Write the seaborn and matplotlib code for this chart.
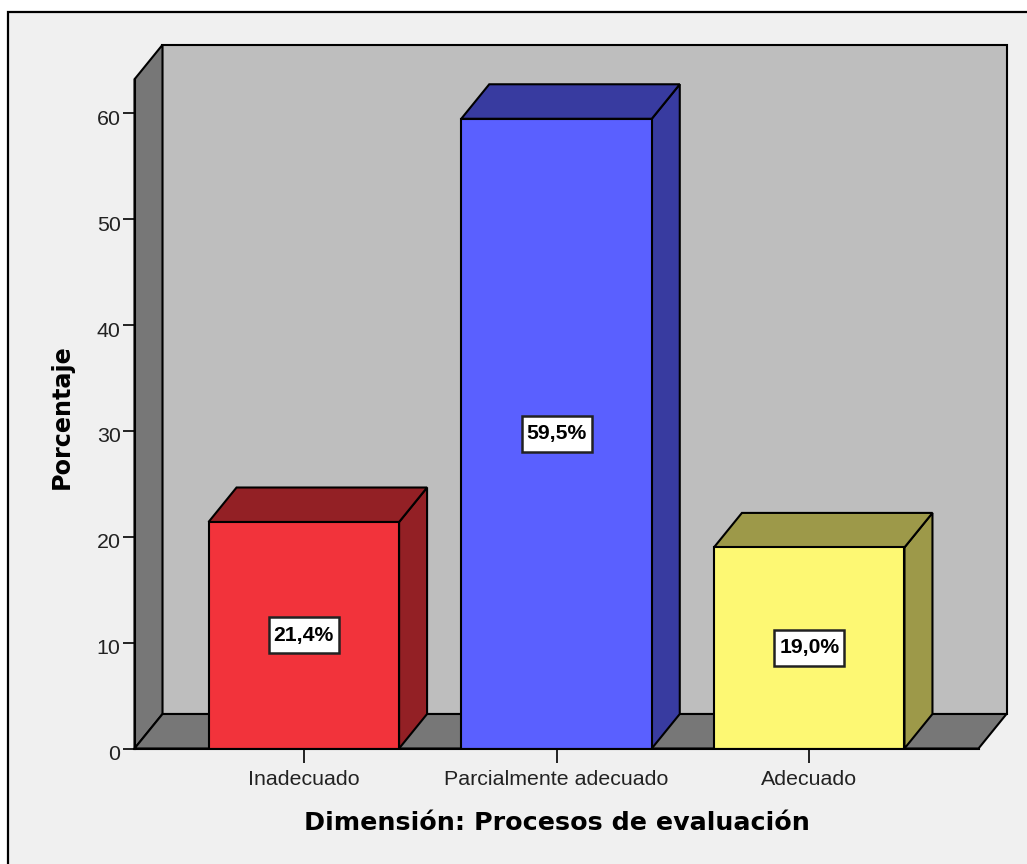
import matplotlib
matplotlib.use("Agg")
import matplotlib.pyplot as plt
from matplotlib.patches import Polygon, Rectangle
from matplotlib.transforms import ScaledTranslation
import seaborn as sns

# datos
categorias = ["Inadecuado", "Parcialmente adecuado", "Adecuado"]
porcentajes = [21.4, 59.5, 19.0]
etiquetas = ["21,4%", "59,5%", "19,0%"]
marcas_y = [0, 10, 20, 30, 40, 50, 60]

color_frente = ["#F2333B", "#5A60FF", "#FDF873"]
color_lado = ["#932025", "#383BA0", "#9D9949"]
color_tapa = ["#932025", "#383BA0", "#9D9949"]

sns.set_theme(style="white")
plt.rcParams["font.family"] = ["Liberation Sans", "DejaVu Sans"]

W, H = 1027, 864
fig = plt.figure(figsize=(W / 100, H / 100), dpi=100, facecolor="white")
# el marco solo se ve arriba y a la izquierda, el resto sale de la imagen
fig.add_artist(Rectangle((8 / W, -0.05), 1.1, 1.05 - 12 / H, transform=fig.transFigure,
                         facecolor="#F0F0F0", edgecolor="black", linewidth=1.6, zorder=-1))

# plano frontal de la caja, en pixeles de la imagen
ancho_px, alto_px = 844, 669.2
ax = fig.add_axes([134.5 / W, 1 - 748.5 / H, ancho_px / W, alto_px / H])
ax.patch.set_visible(False)

sns.barplot(x=categorias, y=porcentajes, hue=categorias, palette=color_frente, legend=False,
            width=0.754, edgecolor="black", linewidth=1.5, saturation=1, ax=ax, zorder=3)
ax.set_xlim(-0.67, 2.67)
ax.set_ylim(0, 63.23)

# profundidad de la perspectiva en unidades de datos
x0, x1 = ax.get_xlim()
y1 = ax.get_ylim()[1]
px_x = (x1 - x0) / ancho_px
px_y = y1 / alto_px
dx, dy = 28 * px_x, 34.5 * px_y

paredes = [
    ([(x0 + dx, dy), (x1 + dx, dy), (x1 + dx, y1 + dy), (x0 + dx, y1 + dy)], "#BEBEBE"),
    ([(x0, 0), (x0 + dx, dy), (x0 + dx, y1 + dy), (x0, y1)], "#777777"),
    ([(x0, 0), (x1, 0), (x1 + dx, dy), (x0 + dx, dy)], "#777777"),
]
for puntos, color in paredes:
    ax.add_patch(Polygon(puntos, closed=True, facecolor=color, edgecolor="black",
                         linewidth=1.5, clip_on=False, zorder=1))

# lado y tapa de cada barra, a partir de las barras de seaborn
barras = [p for p in ax.patches if p.get_zorder() == 3]
for i, barra in enumerate(barras):
    izq, der = barra.get_x(), barra.get_x() + barra.get_width()
    alto = barra.get_height()
    ax.add_patch(Polygon([(der, 0), (der + dx, dy), (der + dx, alto + dy), (der, alto)],
                         facecolor=color_lado[i], edgecolor="black", linewidth=1.5,
                         clip_on=False, zorder=2))
    ax.add_patch(Polygon([(izq, alto), (der, alto), (der + dx, alto + dy), (izq + dx, alto + dy)],
                         facecolor=color_tapa[i], edgecolor="black", linewidth=1.5,
                         clip_on=False, zorder=2))
    centro = izq + barra.get_width() / 2
    ax.add_patch(Rectangle((centro - 35 * px_x, alto / 2 - 18 * px_y), 70 * px_x, 36 * px_y,
                           facecolor="white", edgecolor="#222222", linewidth=1.8, zorder=5))
    ax.text(centro, alto / 2, etiquetas[i], ha="center", va="center", fontsize=15.2, fontweight="bold",
            color="black", zorder=6)

sns.despine(ax=ax, top=True, right=True)
for lado in ["left", "bottom"]:
    ax.spines[lado].set_color("black")
    ax.spines[lado].set_linewidth(1.5)
    ax.spines[lado].set_zorder(4)

ax.set_yticks(marcas_y)
ax.tick_params(axis="y", length=9, width=1.4, color="#222222", labelcolor="#222222",
               labelsize=15.4, left=True, pad=1)
ax.tick_params(axis="x", length=10, width=1.4, color="#222222", labelcolor="#222222",
               labelsize=15.4, bottom=True, pad=5.5)
# los numeros del eje quedan unos pixeles por debajo de su marca
bajar = ScaledTranslation(0, -4 / 100, fig.dpi_scale_trans)
for etiqueta in ax.get_yticklabels():
    etiqueta.set_transform(etiqueta.get_transform() + bajar)

ax.set_xlabel("Dimensión: Procesos de evaluación", fontsize=18.3, fontweight="bold", color="black",
              family="DejaVu Sans")
ax.set_ylabel("Porcentaje", fontsize=17.2, fontweight="bold", color="black", family="DejaVu Sans")
ax.xaxis.set_label_coords(0.5, -63 / alto_px, transform=ax.transAxes)
ax.yaxis.set_label_coords(-61 / ancho_px, 0.496, transform=ax.transAxes)

fig.savefig("out.png", dpi=100, facecolor="white")
